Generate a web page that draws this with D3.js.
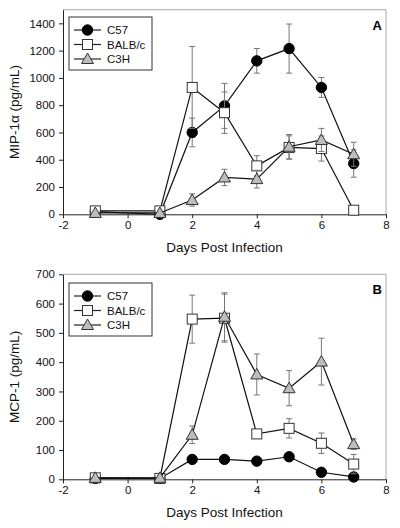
<!DOCTYPE html>
<html>
<head>
<meta charset="utf-8">
<script src="https://cdn.jsdelivr.net/npm/d3@7"></script>
<style>
  body { margin: 0; background: #fff; }
  svg { font-family: "Liberation Sans", Arial, sans-serif; }
</style>
</head>
<body>
<script>
var W = 400, H = 528;

// days post infection
var days = [-1, 1, 2, 3, 4, 5, 6, 7];
var strains = ["C57", "BALB/c", "C3H"];
var xTicks = [-2, 0, 2, 4, 6, 8];

// panel A: MIP-1a (pg/mL)
var mipC57 = [20, 0, 600, 795, 1125, 1215, 930, 372];
var mipC57Err = [15, 5, 105, 165, 90, 180, 73, 100];
var mipBalb = [25, 25, 930, 745, 355, 490, 482, 30];
var mipBalbErr = [10, 10, 300, 152, 75, 85, 92, 5];
var mipC3h = [10, 10, 105, 270, 258, 495, 545, 440];
var mipC3hErr = [5, 5, 45, 60, 65, 90, 85, 88];
var mipTicks = [0, 200, 400, 600, 800, 1000, 1200, 1400];

// panel B: MCP-1 (pg/mL)
var mcpC57 = [3, 3, 68, 68, 62, 77, 24, 8];
var mcpC57Err = [2, 2, 5, 5, 5, 8, 5, 3];
var mcpBalb = [5, 3, 547, 550, 155, 174, 123, 52];
var mcpBalbErr = [3, 3, 82, 82, 10, 33, 35, 33];
var mcpC3h = [5, 5, 152, 555, 358, 311, 402, 120];
var mcpC3hErr = [3, 3, 30, 82, 70, 60, 80, 18];
var mcpTicks = [0, 100, 200, 300, 400, 500, 600, 700];

var svg = d3.select("body").append("svg").attr("width", W).attr("height", H);

function plain(d) { return String(d); }

function drawMarker(g, kind, x, y) {
  if (kind == 0) {
    g.append("circle").attr("cx", x).attr("cy", y).attr("r", 5.2)
      .attr("fill", "#000").attr("stroke", "#000");
  } else if (kind == 1) {
    g.append("rect").attr("x", x - 5).attr("y", y - 5).attr("width", 10).attr("height", 10)
      .attr("fill", "#fff").attr("stroke", "#333").attr("stroke-width", 1);
  } else {
    g.append("path")
      .attr("d", "M" + x + "," + (y - 6) + "L" + (x + 6) + "," + (y + 4.5) + "L" + (x - 6) + "," + (y + 4.5) + "Z")
      .attr("fill", "#bdbdbd").attr("stroke", "#333").attr("stroke-width", 1);
  }
}

function panel(opts) {
  var x = d3.scaleLinear().domain([-2, 8]).range([63, 386]);
  var y = d3.scaleLinear().domain([0, opts.yMax]).range([opts.bottom, opts.top]);
  var g = svg.append("g");

  // light frame top/right
  g.append("path")
    .attr("d", "M" + x(-2) + "," + y(opts.yMax) + "H" + x(8) + "V" + y(0))
    .attr("fill", "none").attr("stroke", "#a8a8a8").attr("stroke-width", 1);

  var xAxis = g.append("g").attr("transform", "translate(0," + y(0) + ")")
    .call(d3.axisBottom(x).tickValues(xTicks).tickFormat(plain).tickSize(4).tickPadding(3).tickSizeOuter(0));
  var yAxis = g.append("g").attr("transform", "translate(" + x(-2) + ",0)")
    .call(d3.axisLeft(y).tickValues(opts.ticks).tickFormat(plain).tickSize(4).tickPadding(4).tickSizeOuter(0));
  [xAxis, yAxis].forEach(function(a) {
    a.selectAll("text").attr("font-size", 11.5).attr("fill", "#111")
      .attr("font-family", "Liberation Sans, Arial, sans-serif");
    a.selectAll("line").attr("stroke", "#222");
    a.select(".domain").attr("stroke", "#222");
  });

  g.append("text").attr("x", (x(-2) + x(8)) / 2).attr("y", y(0) + 38)
    .attr("text-anchor", "middle").attr("font-size", 13.5).attr("fill", "#111")
    .text("Days Post Infection");

  g.append("text")
    .attr("transform", "translate(19," + ((y(0) + y(opts.yMax)) / 2) + ") rotate(-90)")
    .attr("text-anchor", "middle").attr("font-size", 13.5).attr("fill", "#111")
    .text(opts.yLabel);

  g.append("text").attr("x", 382).attr("y", y(opts.yMax) + 20)
    .attr("text-anchor", "end").attr("font-size", 13).attr("font-weight", "bold")
    .text(opts.letter);

  var line = d3.line().x(function(d) { return x(d[0]); }).y(function(d) { return y(d[1]); });

  opts.series.forEach(function(s, k) {
    var pts = days.map(function(d, i) { return [d, s.v[i], s.e[i]]; });
    pts.forEach(function(p) {
      var cx = x(p[0]), y1 = y(p[1] + p[2]), y2 = y(Math.max(0, p[1] - p[2]));
      g.append("line").attr("x1", cx).attr("x2", cx).attr("y1", y1).attr("y2", y2)
        .attr("stroke", "#777").attr("stroke-width", 1);
      g.append("line").attr("x1", cx - 3).attr("x2", cx + 3).attr("y1", y1).attr("y2", y1)
        .attr("stroke", "#777").attr("stroke-width", 1);
      g.append("line").attr("x1", cx - 3).attr("x2", cx + 3).attr("y1", y2).attr("y2", y2)
        .attr("stroke", "#777").attr("stroke-width", 1);
    });
    g.append("path").attr("d", line(pts)).attr("fill", "none")
      .attr("stroke", "#111").attr("stroke-width", 1.2);
    pts.forEach(function(p) { drawMarker(g, k, x(p[0]), y(p[1])); });
  });

  // legend
  var lx = 69, ly = opts.legendTop;
  g.append("rect").attr("x", lx).attr("y", ly).attr("width", 83).attr("height", 53)
    .attr("fill", "#fff").attr("stroke", "#333").attr("stroke-width", 1);
  strains.forEach(function(name, k) {
    var yy = ly + 13 + k * 14.5;
    g.append("line").attr("x1", lx + 5).attr("x2", lx + 32).attr("y1", yy).attr("y2", yy)
      .attr("stroke", "#222").attr("stroke-width", 1.2);
    drawMarker(g, k, lx + 18.5, yy);
    g.append("text").attr("x", lx + 38).attr("y", yy + 4.2).attr("font-size", 11.5)
      .attr("fill", "#111").text(name);
  });
}

panel({
  top: 9.7, bottom: 214.3, yMax: 1500, ticks: mipTicks, yLabel: "MIP-1\u03b1 (pg/mL)", letter: "A",
  legendTop: 17,
  series: [
    { v: mipC57, e: mipC57Err },
    { v: mipBalb, e: mipBalbErr },
    { v: mipC3h, e: mipC3hErr }
  ]
});

panel({
  top: 274.3, bottom: 479.3, yMax: 700, ticks: mcpTicks, yLabel: "MCP-1 (pg/mL)", letter: "B",
  legendTop: 283,
  series: [
    { v: mcpC57, e: mcpC57Err },
    { v: mcpBalb, e: mcpBalbErr },
    { v: mcpC3h, e: mcpC3hErr }
  ]
});
</script>
</body>
</html>
